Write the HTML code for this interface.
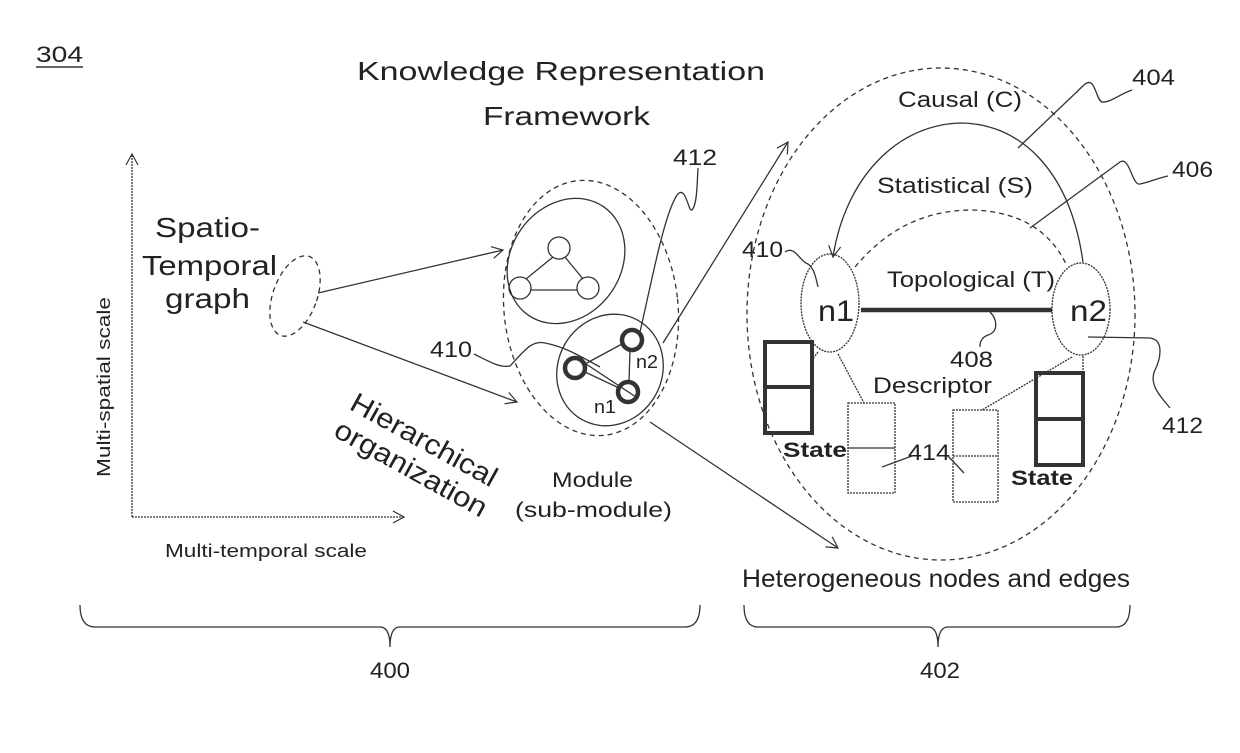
<!DOCTYPE html>
<html><head><meta charset="utf-8"><style>
html,body{margin:0;padding:0;background:#fff;}
svg{display:block;}
text{font-family:"Liberation Sans",sans-serif;fill:#222;}
</style></head><body>
<svg width="1240" height="753" viewBox="0 0 1240 753" xmlns="http://www.w3.org/2000/svg">
<defs>
<marker id="ah" markerWidth="14" markerHeight="14" refX="12" refY="7" orient="auto" markerUnits="userSpaceOnUse">
<path d="M1,1 L12,7 L1,13" fill="none" stroke="#333" stroke-width="1.2"/>
</marker>
</defs>
<g fill="none" stroke="#333" stroke-width="1.3">
<line x1="36" y1="67" x2="83" y2="67" stroke-width="1.5"/>
<line x1="132" y1="517" x2="132" y2="154" marker-end="url(#ah)" stroke-dasharray="2 1"/>
<line x1="132" y1="517" x2="404" y2="517" marker-end="url(#ah)" stroke-dasharray="2 1"/>
<ellipse cx="295" cy="296" rx="22" ry="42" transform="rotate(20 295 296)" stroke-dasharray="5 4"/>
<line x1="318" y1="293" x2="503" y2="250" marker-end="url(#ah)"/>
<line x1="303" y1="322" x2="517" y2="402" marker-end="url(#ah)"/>
<ellipse cx="591" cy="308" rx="87" ry="128" transform="rotate(-6 591 308)" stroke-dasharray="5 4"/>
<ellipse cx="566" cy="261" rx="55" ry="66" transform="rotate(35 566 261)"/>
<circle cx="559" cy="248" r="11"/>
<circle cx="520" cy="288" r="11"/>
<circle cx="588" cy="288" r="11"/>
<line x1="553" y1="257" x2="526" y2="279"/>
<line x1="565" y1="257" x2="583" y2="279"/>
<line x1="531" y1="290" x2="577" y2="290"/>
<ellipse cx="610" cy="370" rx="52" ry="57" transform="rotate(30 610 370)"/>
<g stroke-width="4.5"><circle cx="575" cy="368" r="10"/><circle cx="632" cy="340" r="10"/><circle cx="628" cy="392" r="10"/></g>
<line x1="585" y1="364" x2="622" y2="344"/>
<line x1="585" y1="372" x2="619" y2="388"/>
<line x1="630" y1="350" x2="629" y2="382"/>
<line x1="583" y1="362" x2="636" y2="397"/>
<path d="M640,332 C652,280 664,215 677,195 C686,184 688,212 692,210 C697,205 697,185 698,168"/>
<path d="M474,354 C490,362 500,368 510,366 C525,350 532,340 545,343 C565,347 578,355 600,367"/>
<line x1="663" y1="343" x2="788" y2="142" marker-end="url(#ah)"/>
<line x1="650" y1="422" x2="838" y2="548" marker-end="url(#ah)"/>
<ellipse cx="941" cy="314" rx="194" ry="246" stroke-dasharray="5 4"/>
<ellipse cx="830" cy="303" rx="29" ry="49" stroke-dasharray="2 1"/>
<ellipse cx="1081" cy="309" rx="29" ry="46" stroke-dasharray="2 1"/>
<line x1="861" y1="310" x2="1052" y2="310" stroke-width="4.5"/>
<path d="M1083,262 C1070,170 1020,123 960,123 C895,125 845,180 833,257" marker-end="url(#ah)"/>
<path d="M855,267 C890,225 930,210 973,210 C1025,212 1052,235 1066,264" stroke-dasharray="5 4"/>
<path d="M1018,148 L1085,84 C1095,76 1096,100 1102,102 C1110,103 1120,94 1132,90"/>
<path d="M1030,228 L1120,162 C1130,156 1132,186 1140,184 C1150,182 1158,178 1168,176"/>
<path d="M1088,337 L1150,338 C1165,340 1160,360 1155,370 C1148,385 1162,398 1170,408"/>
<path d="M990,312 C998,320 998,332 988,335 C980,338 980,344 980,347"/>
<path d="M785,252 C795,245 800,262 808,264 C814,268 816,278 818,287"/>
<path d="M882,467 L912,456"/>
<path d="M948,456 L964,473"/>
<g stroke-width="4">
<rect x="765" y="342" width="47" height="91"/><line x1="765" y1="387" x2="812" y2="387"/>
<rect x="1036" y="373" width="47" height="92"/><line x1="1036" y1="419" x2="1083" y2="419"/>
</g>
<g stroke-dasharray="2 1">
<rect x="848" y="403" width="47" height="90"/><line x1="848" y1="448" x2="895" y2="448" stroke-dasharray="none"/>
<rect x="953" y="410" width="45" height="92"/><line x1="953" y1="456" x2="998" y2="456"/>
<line x1="818" y1="352" x2="812" y2="360"/>
<line x1="838" y1="354" x2="864" y2="403"/>
<line x1="1072" y1="357" x2="982" y2="410"/>
<line x1="1083" y1="356" x2="1083" y2="373"/>
</g>
<path d="M80,605 Q80,627 95,627 L380,627 Q390,627 390,647 Q390,627 400,627 L685,627 Q700,627 700,605"/>
<path d="M744,605 Q744,627 758,627 L928,627 Q938,627 938,647 Q938,627 948,627 L1116,627 Q1130,627 1130,605"/>
</g>
<g font-size="22">
<text x="36" y="62" font-size="22" textLength="47" lengthAdjust="spacingAndGlyphs">304</text>
<text x="357" y="80" font-size="26" textLength="408" lengthAdjust="spacingAndGlyphs">Knowledge Representation</text>
<text x="483" y="125" font-size="26" textLength="167" lengthAdjust="spacingAndGlyphs">Framework</text>
<text x="155" y="237" font-size="28" textLength="105" lengthAdjust="spacingAndGlyphs">Spatio-</text>
<text x="142" y="275" font-size="28" textLength="135" lengthAdjust="spacingAndGlyphs">Temporal</text>
<text x="165" y="308" font-size="28" textLength="85" lengthAdjust="spacingAndGlyphs">graph</text>
<text transform="translate(110,477) rotate(-90)" font-size="18" textLength="180" lengthAdjust="spacingAndGlyphs">Multi-spatial scale</text>
<text x="165" y="557" font-size="18" textLength="202" lengthAdjust="spacingAndGlyphs">Multi-temporal scale</text>
<g transform="translate(354,398) rotate(29)"><text x="0" y="12" font-size="28" textLength="163" lengthAdjust="spacingAndGlyphs">Hierarchical</text></g>
<g transform="translate(338,425) rotate(29)"><text x="0" y="12" font-size="28" textLength="170" lengthAdjust="spacingAndGlyphs">organization</text></g>
<text x="430" y="357" font-size="22" textLength="42" lengthAdjust="spacingAndGlyphs">410</text>
<text x="673" y="165" font-size="22" textLength="44" lengthAdjust="spacingAndGlyphs">412</text>
<text x="636" y="368" font-size="18" textLength="22" lengthAdjust="spacingAndGlyphs">n2</text>
<text x="594" y="413" font-size="18" textLength="22" lengthAdjust="spacingAndGlyphs">n1</text>
<text x="552" y="487" font-size="21" textLength="81" lengthAdjust="spacingAndGlyphs">Module</text>
<text x="515" y="517" font-size="21" textLength="157" lengthAdjust="spacingAndGlyphs">(sub-module)</text>
<text x="898" y="107" font-size="22" textLength="124" lengthAdjust="spacingAndGlyphs">Causal (C)</text>
<text x="877" y="193" font-size="22" textLength="156" lengthAdjust="spacingAndGlyphs">Statistical (S)</text>
<text x="887" y="287" font-size="22" textLength="168" lengthAdjust="spacingAndGlyphs">Topological (T)</text>
<text x="818" y="321" font-size="30" textLength="36" lengthAdjust="spacingAndGlyphs">n1</text>
<text x="1070" y="321" font-size="30" textLength="37" lengthAdjust="spacingAndGlyphs">n2</text>
<text x="950" y="367" font-size="22" textLength="43" lengthAdjust="spacingAndGlyphs">408</text>
<text x="873" y="393" font-size="22" textLength="119" lengthAdjust="spacingAndGlyphs">Descriptor</text>
<text x="783" y="457" font-size="21" font-weight="bold" textLength="64" lengthAdjust="spacingAndGlyphs">State</text>
<text x="1011" y="485" font-size="21" font-weight="bold" textLength="62" lengthAdjust="spacingAndGlyphs">State</text>
<text x="908" y="460" font-size="22" textLength="42" lengthAdjust="spacingAndGlyphs">414</text>
<text x="1132" y="85" font-size="22" textLength="43" lengthAdjust="spacingAndGlyphs">404</text>
<text x="1172" y="177" font-size="22" textLength="41" lengthAdjust="spacingAndGlyphs">406</text>
<text x="1162" y="433" font-size="22" textLength="41" lengthAdjust="spacingAndGlyphs">412</text>
<text x="742" y="257" font-size="22" textLength="41" lengthAdjust="spacingAndGlyphs">410</text>
<text x="742" y="587" font-size="25" textLength="388" lengthAdjust="spacingAndGlyphs">Heterogeneous nodes and edges</text>
<text x="370" y="678" font-size="22" textLength="40" lengthAdjust="spacingAndGlyphs">400</text>
<text x="920" y="678" font-size="22" textLength="40" lengthAdjust="spacingAndGlyphs">402</text>
</g>
</svg>
</body></html>
